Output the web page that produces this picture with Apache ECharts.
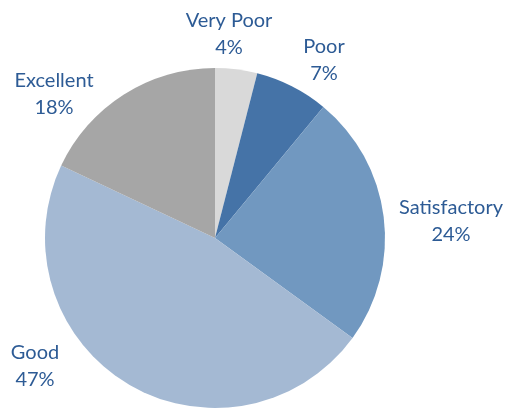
<!DOCTYPE html>
<html>
<head>
<meta charset="utf-8">
<script src="https://cdn.jsdelivr.net/npm/echarts@6/dist/echarts.min.js"></script>
<style>
  html, body { margin: 0; padding: 0; background: #fff; }
  #chart { width: 508px; height: 410px; }
</style>
</head>
<body>
<div id="chart"></div>
<script>
const categories = ['Very Poor', 'Poor', 'Satisfactory', 'Good', 'Excellent']
const values = [4, 7, 24, 47, 18]
const colors = ['#d9d9d9', '#4573a7', '#7198c0', '#a4b9d3', '#a6a6a6']

// label centres (px), placed like the original best-fit labels
const labelPos = [[229, 34], [324, 60], [451, 221], [35, 366], [54, 94]]

const chart = echarts.init(document.getElementById('chart'))
chart.setOption({
  animation: false,
  series: [{
    type: 'pie',
    center: [215, 238],
    radius: 170,
    startAngle: 90,
    clockwise: true,
    data: categories.map((c, i) => ({
      name: c,
      value: values[i],
      itemStyle: { color: colors[i] }
    })),
    label: {
      show: true,
      position: 'outside',
      formatter: '{b}\n{c}%',
      color: '#2d5b95',
      fontSize: 20,
      lineHeight: 27,
      fontFamily: 'Lato, sans-serif',
      align: 'center',
      overflow: 'none',
      edgeDistance: 0
    },
    labelLine: { show: false },
    labelLayout: function (params) {
      const p = labelPos[params.dataIndex]
      return { x: p[0], y: p[1], align: 'center', verticalAlign: 'middle' }
    }
  }]
})
</script>
</body>
</html>
